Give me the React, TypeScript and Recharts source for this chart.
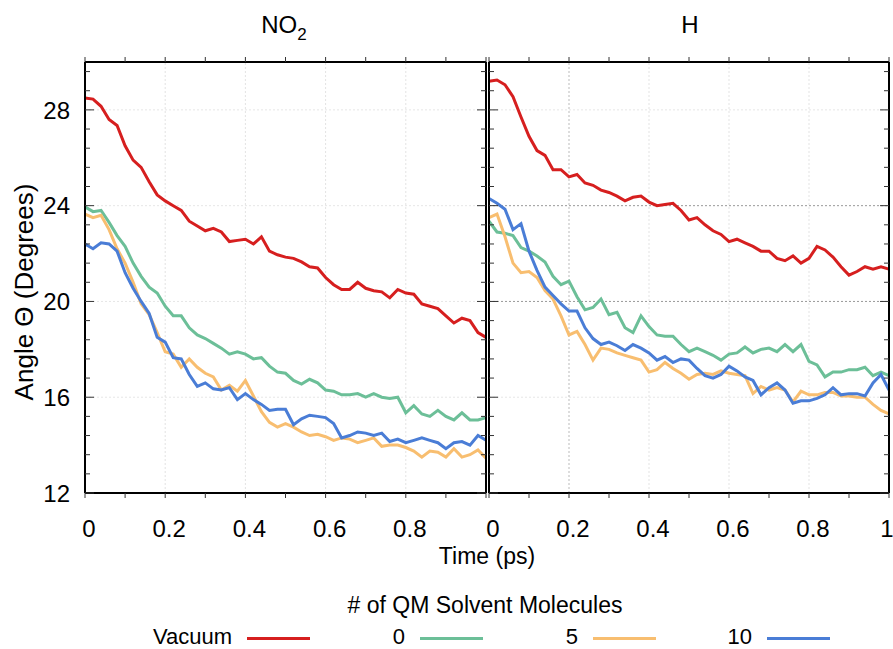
import React from 'react'
import { LineChart, Line, XAxis, YAxis, ReferenceLine } from 'recharts'

// time in ps, shared by both panels
const time = [
  0, 0.02, 0.04, 0.06, 0.08, 0.1, 0.12, 0.14, 0.16, 0.18,
  0.2, 0.22, 0.24, 0.26, 0.28, 0.3, 0.32, 0.34, 0.36, 0.38,
  0.4, 0.42, 0.44, 0.46, 0.48, 0.5, 0.52, 0.54, 0.56, 0.58,
  0.6, 0.62, 0.64, 0.66, 0.68, 0.7, 0.72, 0.74, 0.76, 0.78,
  0.8, 0.82, 0.84, 0.86, 0.88, 0.9, 0.92, 0.94, 0.96, 0.98,
  1,
]

// NO2 panel
const leftVacuum = [
  28.5, 28.45, 28.15, 27.6, 27.35, 26.5, 25.9, 25.6, 25.0, 24.45,
  24.2, 24.0, 23.8, 23.35, 23.15, 22.95, 23.05, 22.9, 22.5, 22.55,
  22.6, 22.4, 22.7, 22.1, 21.95, 21.85, 21.8, 21.65, 21.45, 21.4,
  21.0, 20.7, 20.5, 20.5, 20.8, 20.55, 20.45, 20.4, 20.15, 20.5,
  20.35, 20.3, 19.9, 19.8, 19.7, 19.4, 19.1, 19.3, 19.2, 18.7,
  18.5,
]
const leftZero = [
  23.95, 23.75, 23.8, 23.3, 22.75, 22.3, 21.6, 21.05, 20.6, 20.35,
  19.8, 19.4, 19.4, 18.9, 18.6, 18.45, 18.25, 18.05, 17.8, 17.9,
  17.8, 17.6, 17.65, 17.3, 17.05, 17.0, 16.7, 16.55, 16.75, 16.6,
  16.3, 16.25, 16.1, 16.1, 16.15, 16.0, 16.15, 16.0, 15.95, 16.0,
  15.35, 15.65, 15.3, 15.2, 15.45, 15.2, 15.05, 15.35, 15.05, 15.05,
  15.15,
]
const leftFive = [
  23.65, 23.5, 23.6, 23.0, 22.2, 21.6, 20.8, 19.9, 19.45, 18.7,
  17.9, 17.8, 17.25, 17.6, 17.25, 17.0, 16.85, 16.3, 16.5, 16.25,
  16.7, 16.05, 15.4, 14.95, 14.75, 14.9, 14.75, 14.55, 14.4, 14.45,
  14.35, 14.2, 14.3, 14.25, 14.1, 14.2, 14.3, 13.95, 14.0, 14.0,
  13.9, 13.75, 13.5, 13.75, 13.7, 13.5, 13.85, 13.5, 13.6, 13.8,
  13.45,
]
const leftTen = [
  22.4, 22.2, 22.45, 22.4, 22.1, 21.2, 20.55, 20.0, 19.5, 18.5,
  18.3, 17.65, 17.6, 16.95, 16.45, 16.6, 16.35, 16.3, 16.4, 15.9,
  16.15, 15.9, 15.7, 15.45, 15.5, 15.5, 14.85, 15.1, 15.25, 15.2,
  15.15, 14.9, 14.3, 14.4, 14.55, 14.5, 14.4, 14.5, 14.15, 14.25,
  14.1, 14.2, 14.3, 14.2, 14.1, 13.85, 14.1, 14.15, 14.0, 14.4,
  14.2,
]

// H panel
const rightVacuum = [
  29.2, 29.25, 29.05, 28.55, 27.7, 26.9, 26.3, 26.1, 25.5, 25.5,
  25.2, 25.3, 24.95, 24.85, 24.65, 24.55, 24.4, 24.2, 24.35, 24.4,
  24.15, 24.0, 24.05, 24.1, 23.8, 23.4, 23.5, 23.2, 22.95, 22.8,
  22.5, 22.6, 22.45, 22.3, 22.1, 22.1, 21.8, 21.7, 21.9, 21.6,
  21.8, 22.3, 22.15, 21.85, 21.45, 21.1, 21.25, 21.45, 21.35, 21.45,
  21.35,
]
const rightZero = [
  23.35, 22.9, 22.85, 22.75, 22.25, 22.1, 21.9, 21.65, 21.05, 20.7,
  20.85, 20.2, 19.65, 19.75, 20.1, 19.45, 19.55, 18.9, 18.7, 19.4,
  18.95, 18.6, 18.55, 18.55, 18.2, 17.9, 18.05, 17.9, 17.75, 17.55,
  17.8, 17.85, 18.1, 17.85, 18.0, 18.05, 17.9, 18.2, 17.9, 18.2,
  17.5, 17.35, 16.85, 17.05, 17.05, 17.15, 17.15, 17.25, 16.9, 17.05,
  16.9,
]
const rightFive = [
  23.5, 23.65, 22.7, 21.6, 21.2, 21.25, 21.0, 20.45, 20.1, 19.4,
  18.6, 18.75, 18.2, 17.55, 18.05, 18.0, 17.85, 17.75, 17.65, 17.55,
  17.05, 17.15, 17.45, 17.2, 17.0, 16.75, 16.95, 17.0, 16.95, 17.1,
  17.0, 16.95, 16.9, 16.15, 16.45, 16.3, 16.4, 16.3, 15.8, 16.25,
  16.1, 16.1, 16.2, 16.2, 16.05, 16.05, 16.0, 16.0, 15.7, 15.45,
  15.3,
]
const rightTen = [
  24.3, 24.1, 23.85, 23.0, 23.25, 22.1, 21.3, 20.6, 20.25, 19.9,
  19.6, 19.6, 18.9, 18.45, 18.2, 18.3, 18.15, 17.95, 18.2, 18.05,
  17.85, 17.55, 17.7, 17.45, 17.6, 17.55, 17.2, 16.9, 16.8, 16.95,
  17.3, 17.1, 16.85, 16.7, 16.1, 16.4, 16.6, 16.3, 15.75, 15.85,
  15.85, 15.95, 16.1, 16.4, 16.1, 16.15, 16.15, 16.05, 16.6, 16.95,
  16.3,
]

const xTicks = [0, 0.1, 0.2, 0.3, 0.4, 0.5, 0.6, 0.7, 0.8, 0.9, 1]
const xMajor = [0.2, 0.4, 0.6, 0.8]
const yTicks = [12, 12.8, 13.6, 14.4, 15.2, 16, 16.8, 17.6, 18.4, 19.2, 20, 20.8, 21.6, 22.4, 23.2, 24, 24.8, 25.6, 26.4, 27.2, 28, 28.8, 29.6]
const yMajor = [12, 16, 20, 24, 28]

const seriesNames = ['Vacuum', '0', '5', '10']
const colors = ['#d61f1f', '#6cbf98', '#f8be70', '#4a7dd6']

const FONT = '"Liberation Sans", Arial, Helvetica, sans-serif'

const build = (a: number[], b: number[], c: number[], d: number[]) =>
  time.map((t, i) => ({ t, s0: a[i], s1: b[i], s2: c[i], s3: d[i] }))

const leftData = build(leftVacuum, leftZero, leftFive, leftTen)
const rightData = build(rightVacuum, rightZero, rightFive, rightTen)

const isMajorY = (v: number) => yMajor.some(m => Math.abs(m - v) < 1e-6)

// y ticks drawn inward, labels only on the NO2 left axis
const makeYTick = (dir: 1 | -1, margin: number, labels: boolean) => (p: any) => {
  const v = p.payload.value
  const major = isMajorY(v)
  const ax = p.x + dir * margin
  return (
    <g>
      <line x1={ax} x2={ax + dir * (major ? 9 : 5)} y1={p.y} y2={p.y} stroke="#333" strokeWidth={1} />
      {labels && major && (
        <text x={p.x} y={p.y} dy="0.36em" textAnchor="end" fontSize={24} fill="#000" fontFamily={FONT}>{v}</text>
      )}
    </g>
  )
}

const makeXTick = (showOne: boolean) => (p: any) => {
  const v = p.payload.value
  const ok = xMajor.some(m => Math.abs(m - v) < 1e-6) || v === 0 || (v === 1 && showOne)
  if (!ok) return <g />
  return (
    <text x={v === 1 ? p.x - 2 : p.x + 4} y={p.y} dy="0.71em" textAnchor="middle" fontSize={24} fill="#000" fontFamily={FONT}>{v}</text>
  )
}

const emptyTick = () => <g />

const axisLine = { stroke: '#000', strokeWidth: 2 }

function Panel({ data, left, width, yLabels, showOne, dark }: any) {
  const plotLeftAxisWidth = yLabels ? 60 : 9
  return (
    <div style={{ position: 'absolute', left, top: 0 }}>
      <LineChart width={width} height={649} data={data} margin={{ top: 61, right: 3, bottom: 116, left: yLabels ? 25 : 0 }}>
        <XAxis xAxisId="b" dataKey="t" type="number" domain={[0, 1]} ticks={xTicks} interval={0}
          axisLine={axisLine} tickLine={{ stroke: '#333' }} tickSize={5} tickMargin={22} height={40}
          tick={makeXTick(showOne)} />
        <XAxis xAxisId="top" orientation="top" dataKey="t" type="number" domain={[0, 1]} ticks={xTicks} interval={0}
          axisLine={axisLine} tickLine={{ stroke: '#333' }} tickSize={5} height={1} tick={emptyTick} />
        <YAxis yAxisId="l" type="number" domain={[12, 30]} ticks={yTicks} interval={0} allowDataOverflow
          width={plotLeftAxisWidth} axisLine={axisLine} tickLine={false} tickSize={0}
          tickMargin={yLabels ? 15 : 0} tick={makeYTick(1, yLabels ? 15 : 0, yLabels)} />
        <YAxis yAxisId="r" orientation="right" type="number" domain={[12, 30]} ticks={yTicks} interval={0} allowDataOverflow
          width={1} axisLine={axisLine} tickLine={false} tickSize={0} tickMargin={0} tick={makeYTick(-1, 0, false)} />
        {yMajor.slice(1).map(v => (
          <ReferenceLine key={'y' + v} xAxisId="b" yAxisId="l" y={v}
            stroke={dark && (v === 20 || v === 24) ? '#999' : '#e6e6e6'} strokeDasharray="2 2" />
        ))}
        {xMajor.map(v => (
          <ReferenceLine key={'x' + v} xAxisId="b" yAxisId="l" x={v}
            stroke={dark && v === 0.2 ? '#bbb' : '#e3e3e3'} strokeDasharray="2 2" />
        ))}
        {['s0', 's1', 's2', 's3'].map((k, i) => (
          <Line key={k} xAxisId="b" yAxisId="l" dataKey={k} type="linear" stroke={colors[i]} strokeWidth={3}
            dot={false} isAnimationActive={false} name={seriesNames[i]} />
        ))}
      </LineChart>
    </div>
  )
}

const lineStarts = [247, 420, 593, 767]

export default function App() {
  const text = { position: 'absolute' as const, fontFamily: FONT, color: '#000', lineHeight: 'normal', whiteSpace: 'nowrap' as const }
  return (
    <div style={{ position: 'absolute', left: 0, top: 0, width: 893, height: 649, background: '#fff', overflow: 'hidden' }}>
      <Panel data={leftData} left={0} width={490} yLabels showOne={false} dark={false} />
      <Panel data={rightData} left={480} width={413} yLabels={false} showOne dark />

      <div style={{ ...text, left: 284, top: 11, fontSize: 24, transform: 'translateX(-50%)' }}>
        NO<span style={{ fontSize: 17, position: 'relative', top: 7 }}>2</span>
      </div>
      <div style={{ ...text, left: 690, top: 11, fontSize: 24, transform: 'translateX(-50%)' }}>H</div>

      <div style={{ ...text, left: 24, top: 292, fontSize: 26, transform: 'translate(-50%, -50%) rotate(-90deg)' }}>
        Angle Θ (Degrees)
      </div>

      <div style={{ ...text, left: 487, top: 543, fontSize: 23, transform: 'translateX(-50%)' }}>Time (ps)</div>
      <div style={{ ...text, left: 485, top: 592, fontSize: 23, transform: 'translateX(-50%)' }}># of QM Solvent Molecules</div>

      {seriesNames.map((n, i) => (
        <React.Fragment key={n}>
          <div style={{ ...text, left: lineStarts[i] - 135, width: 120, top: 626, height: 22, fontSize: 22, lineHeight: 1, textAlign: 'right' }}>{n}</div>
          <div style={{ position: 'absolute', left: lineStarts[i], top: 637, width: 63, height: 3, background: colors[i] }} />
        </React.Fragment>
      ))}
    </div>
  )
}
